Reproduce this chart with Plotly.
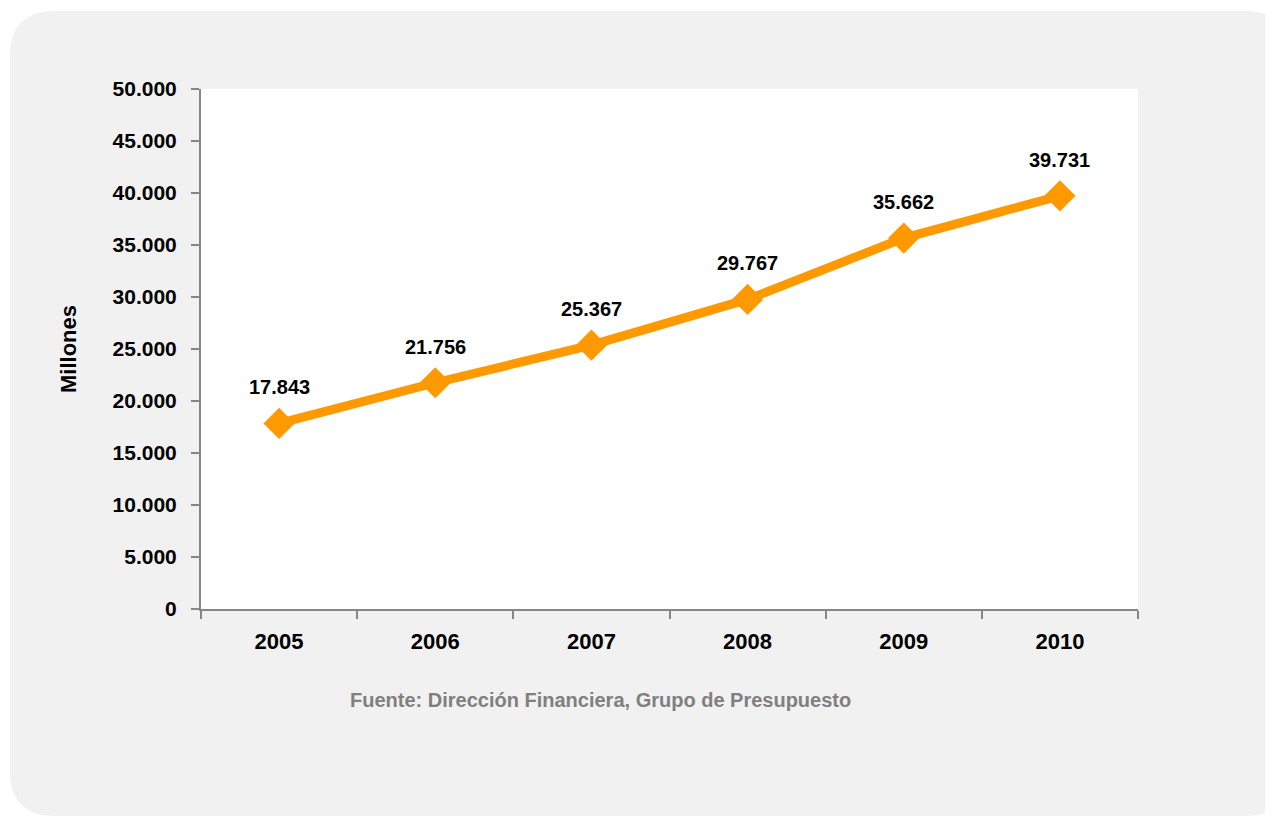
import plotly.graph_objects as go

years = ["2005", "2006", "2007", "2008", "2009", "2010"]
values = [17843, 21756, 25367, 29767, 35662, 39731]
y_ticks = [0, 5000, 10000, 15000, 20000, 25000, 30000, 35000, 40000, 45000, 50000]
source_text = "Fuente: Dirección Financiera, Grupo de Presupuesto"
y_title = "Millones"

OFF = 8  # page body margin
W, H = 1273 - OFF, 817 - OFF
L, R, T, B = 201 - OFF, 1138 - OFF, 89 - OFF, 609 - OFF
FONT = "Liberation Sans, Arial, sans-serif"

def px(x):
    return (x - OFF - L) / (R - L)

def py(y):
    return (B - (y - OFF)) / (B - T)

def fmt(v):
    return f"{v:,}".replace(",", ".")

fig = go.Figure()
fig.add_trace(go.Scatter(
    x=years, y=values, mode="lines+markers",
    line=dict(color="#FF9900", width=9),
    marker=dict(symbol="diamond", size=24, color="#FF9900"),
    hoverinfo="skip", showlegend=False,
))

for i, v in enumerate(values):
    fig.add_annotation(x=i, y=v, text=fmt(v), showarrow=False,
                       yshift=36,
                       font=dict(family=FONT, size=20, color="#000000", weight="bold"))

# grey rounded panel
x0, x1, y0, y1, r = 10, 1290, 11, 816, 45
path = (f"M {px(x0+r)},{py(y0)} L {px(x1-r)},{py(y0)} Q {px(x1)},{py(y0)} {px(x1)},{py(y0+r)} "
        f"L {px(x1)},{py(y1-r)} Q {px(x1)},{py(y1)} {px(x1-r)},{py(y1)} "
        f"L {px(x0+r)},{py(y1)} Q {px(x0)},{py(y1)} {px(x0)},{py(y1-r)} "
        f"L {px(x0)},{py(y0+r)} Q {px(x0)},{py(y0)} {px(x0+r)},{py(y0)} Z")
fig.add_shape(type="path", path=path, xref="paper", yref="paper",
              fillcolor="#F1F1F1", line=dict(width=0), layer="below")
fig.add_shape(type="rect", xref="paper", yref="paper", x0=0, x1=1, y0=0, y1=1,
              fillcolor="#FFFFFF", line=dict(width=0), layer="below")

fig.add_annotation(xref="paper", yref="paper", x=px(600), y=py(700),
                   xanchor="center", yanchor="middle",
                   text=source_text, showarrow=False,
                   font=dict(family=FONT, size=20, color="#808080", weight="bold"))

fig.update_layout(
    width=W, height=H,
    margin=dict(l=L, r=W - R, t=T, b=H - B, pad=0),
    paper_bgcolor="#FFFFFF", plot_bgcolor="rgba(0,0,0,0)",
    separators=",.",
    font=dict(family=FONT, color="#000000"),
    xaxis=dict(type="category", range=[-0.5, 5.5], tickson="boundaries",
               showgrid=False, showline=True, linecolor="#868686", linewidth=2,
               ticks="outside", ticklen=8, tickcolor="#868686", tickwidth=2,
               tickangle=0, ticklabelstandoff=12,
               tickfont=dict(family=FONT, size=22, color="#000000", weight="bold"),
               zeroline=False, fixedrange=True),
    yaxis=dict(range=[0, 50000], tickvals=y_ticks, tickformat=",d",
               showgrid=False, zeroline=False, showline=True,
               linecolor="#868686", linewidth=2, ticks="outside", ticklen=8,
               tickcolor="#868686", tickwidth=2, ticklabelstandoff=10,
               tickfont=dict(family=FONT, size=21, color="#000000", weight="bold"),
               title=dict(text=y_title, standoff=30,
                          font=dict(family=FONT, size=22, color="#000000", weight="bold")),
               fixedrange=True),
)

fig.write_html("out.html")
